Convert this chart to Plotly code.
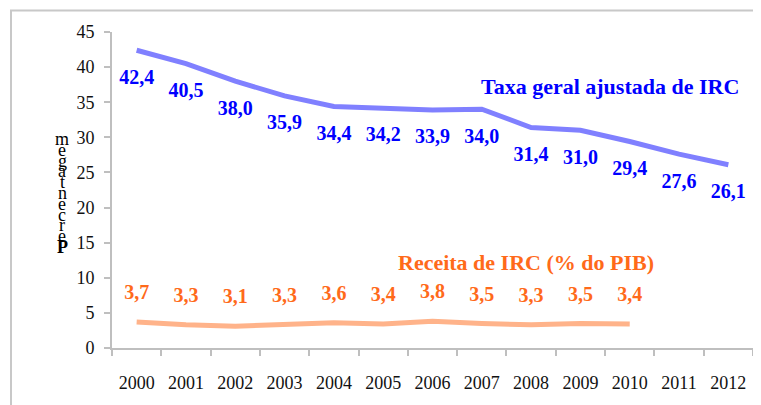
import plotly.graph_objects as go

years = [str(y) for y in range(2000, 2013)]
taxa_geral = [42.4, 40.5, 38.0, 35.9, 34.4, 34.2, 33.9, 34.0, 31.4, 31.0, 29.4, 27.6, 26.1]
receita_years = years[:11]
receita_irc = [3.7, 3.3, 3.1, 3.3, 3.6, 3.4, 3.8, 3.5, 3.3, 3.5, 3.4]
y_title = "Percentagem"

SERIF = "Liberation Serif, Times New Roman, serif"
# page body has an 8px margin, so the figure is drawn at (8, 8)
OFF = 8
W, H = 761 - OFF, 405 - OFF
L, R, T, B = 112 - OFF, 8, 32 - OFF, 57
pw, ph = W - L - R, H - T - B

fig = go.Figure()
fig.add_trace(go.Scatter(
    x=years, y=taxa_geral, mode="lines+markers+text",
    line=dict(color="#8080FF", width=5),
    marker=dict(size=28, color="rgba(0,0,0,0)"),
    texttemplate="%{y:.1f}", textposition="bottom center",
    textfont=dict(family=SERIF, size=20, color="#0000FF", weight="bold"),
    showlegend=False, cliponaxis=False, hoverinfo="skip"))
fig.add_trace(go.Scatter(
    x=receita_years, y=receita_irc, mode="lines+markers+text",
    line=dict(color="#FFB38A", width=5),
    marker=dict(size=27, color="rgba(0,0,0,0)"),
    texttemplate="%{y:.1f}", textposition="top center",
    textfont=dict(family=SERIF, size=20, color="#FF6A1A", weight="bold"),
    showlegend=False, cliponaxis=False, hoverinfo="skip"))

# helpers: window pixel -> paper coordinates
def px_x(x):
    return (x - OFF - L) / pw

def px_y(y):
    return (H - B - (y - OFF)) / ph

def note(text, x, y, size, color, bold=True):
    return dict(text=text, x=px_x(x), y=px_y(y), xref="paper", yref="paper",
                xanchor="center", yanchor="middle", showarrow=False,
                font=dict(family=SERIF, size=size, color=color,
                          weight="bold" if bold else "normal"))

annotations = [
    note("Taxa geral ajustada de IRC", 610, 86, 22, "#0000FF"),
    note("Receita de IRC (% do PIB)", 526, 262, 22, "#FF6A1A"),
]
# vertical stacked axis title, upright letters drawn bottom-to-top
for i, ch in enumerate(y_title):
    annotations.append(note(ch, 62, 247 - i * 10.8, 18, "#000000", bold=(i == 0)))

fig.update_layout(
    width=W, height=H,
    margin=dict(l=L, r=R, t=T, b=B, pad=0),
    paper_bgcolor="white", plot_bgcolor="white",
    separators=",.",
    annotations=annotations,
    shapes=[dict(type="rect", xref="paper", yref="paper",
                 x0=px_x(11), x1=px_x(775), y0=px_y(420), y1=px_y(10.5),
                 line=dict(color="#C8C8C8", width=2), layer="below")],
    xaxis=dict(type="category", tickson="boundaries", showgrid=False,
               showline=True, linecolor="#BFBFBF", linewidth=2,
               ticks="outside", ticklen=6, tickcolor="#BFBFBF", tickwidth=2,
               tickfont=dict(family=SERIF, size=18, color="#111111"),
               ticklabelstandoff=17, range=[-0.5, 12.5]),
    yaxis=dict(range=[0, 45], dtick=5, showgrid=False, zeroline=False,
               showline=True, linecolor="#BFBFBF", linewidth=2,
               ticks="outside", ticklen=6, tickcolor="#BFBFBF", tickwidth=2,
               tickfont=dict(family=SERIF, size=18, color="#111111"),
               ticklabelstandoff=6),
)
fig.write_html("out.html")
